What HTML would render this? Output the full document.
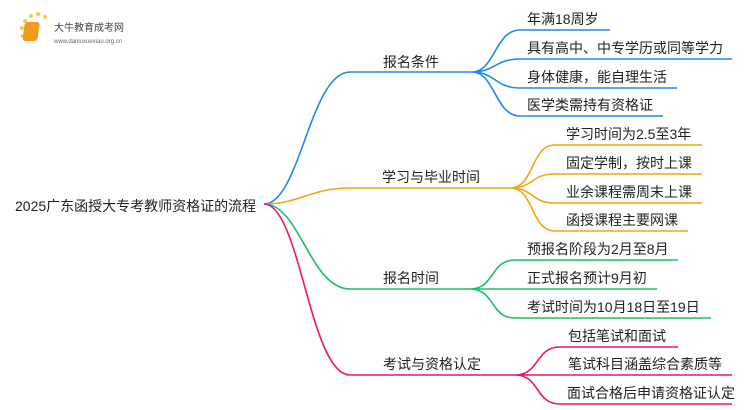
<!DOCTYPE html>
<html><head><meta charset="utf-8"><style>
html,body{margin:0;padding:0;background:#fff;width:750px;height:410px;overflow:hidden}
text{font-family:"Liberation Sans","Noto Sans CJK SC",sans-serif;font-size:14px;fill:#222}
</style></head><body>
<svg width="750" height="410" xmlns="http://www.w3.org/2000/svg">
<g>
<circle cx="22" cy="28" r="2" fill="#f8c84a"/><circle cx="25" cy="21" r="2" fill="#f8c84a"/><circle cx="31" cy="16" r="2" fill="#f8c84a"/><circle cx="38" cy="14" r="2" fill="#f8c84a"/><circle cx="45" cy="17" r="2" fill="#f8c84a"/><circle cx="22" cy="36" r="1.5" fill="#f8c84a"/>
<rect x="28" y="22" width="15" height="19" rx="3" fill="#f29b1d" transform="skewX(-8)"/>
<text x="54" y="31" style="font-size:10px;fill:#444">大牛教育成考网</text>
<text x="54" y="43" style="font-size:6px;fill:#666">www.daniuxuexiao.org.cn</text>
</g>
<text x="15" y="211" style="font-size:14px">2025广东函授大专考教师资格证的流程</text>
<g fill="none" stroke-width="1.6">
<path d="M264 204 C300 204 310 72 350 72 L472 72" stroke="#1e88f0"/>
<path d="M472 72 C495 72 495 30 520 30 L610 30 M472 72 C495 72 495 59 520 59 L732 59 M472 72 C495 72 495 88 520 88 L677 88 M472 72 C495 72 495 116 520 116 L663 116" stroke="#1e88f0"/>
<path d="M264 204 C300 204 310 188 350 188 L510 188" stroke="#f5a614"/>
<path d="M510 188 C535 188 530 145 555 145 L702 145 M510 188 C535 188 530 174 555 174 L702 174 M510 188 C535 188 530 203 555 203 L702 203 M510 188 C535 188 530 231 555 231 L688 231" stroke="#f5a614"/>
<path d="M264 204 C300 204 310 289 350 289 L470 289" stroke="#1bbf6a"/>
<path d="M470 289 C495 289 490 260 515 260 L678 260 M470 289 L657 289 M470 289 C495 289 490 318 515 318 L711 318" stroke="#1bbf6a"/>
<path d="M264 204 C300 204 310 375 350 375 L515 375" stroke="#f0136e"/>
<path d="M515 375 C540 375 535 347 560 347 L678 347 M515 375 L732 375 M515 375 C540 375 535 404 560 404 L732 404" stroke="#f0136e"/>
</g>
<text x="383" y="67">报名条件</text>
<text x="382" y="182">学习与毕业时间</text>
<text x="383" y="283">报名时间</text>
<text x="383" y="369">考试与资格认定</text>
<text x="527" y="24">年满18周岁</text>
<text x="527" y="53">具有高中、中专学历或同等学力</text>
<text x="527" y="82">身体健康，能自理生活</text>
<text x="527" y="110">医学类需持有资格证</text>
<text x="566" y="139">学习时间为2.5至3年</text>
<text x="566" y="168">固定学制，按时上课</text>
<text x="566" y="197">业余课程需周末上课</text>
<text x="566" y="225">函授课程主要网课</text>
<text x="527" y="254">预报名阶段为2月至8月</text>
<text x="527" y="283">正式报名预计9月初</text>
<text x="527" y="312">考试时间为10月18日至19日</text>
<text x="568" y="341">包括笔试和面试</text>
<text x="568" y="369">笔试科目涵盖综合素质等</text>
<text x="567" y="398">面试合格后申请资格证认定</text>
</svg>
</body></html>
